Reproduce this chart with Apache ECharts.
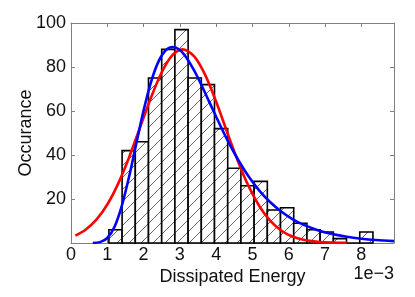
<!DOCTYPE html>
<html>
<head>
<meta charset="utf-8">
<script src="https://cdn.jsdelivr.net/npm/echarts@6/dist/echarts.min.js"></script>
<style>
  html, body { margin: 0; padding: 0; background: #fff; }
  #chart { width: 415px; height: 297px; }
</style>
</head>
<body>
<div id="chart"></div>
<script>
// Histogram (x in units of 1e-3)
const binEdges = [1.044, 1.408, 1.772, 2.135, 2.499, 2.863, 3.227, 3.591, 3.954, 4.318,
  4.682, 5.046, 5.410, 5.773, 6.137, 6.501, 6.865, 7.229, 7.592, 7.956, 8.320];
const counts = [6, 42, 46, 75, 88, 97, 75, 72, 52, 34, 26, 28, 15, 16, 9, 6, 5, 2, 0, 5];

// Red fitted curve
const redX = [0.12, 0.4, 0.7, 1.0, 1.3, 1.6, 1.9, 2.2, 2.5, 2.8, 3.08, 3.4, 3.7, 4.0, 4.3,
  4.6, 4.9, 5.2, 5.5, 5.8, 6.1, 6.4, 6.8, 7.2, 7.6];
const redY = [3.35, 6.05, 10.6, 17.5, 27.0, 38.9, 52.4, 65.9, 77.6, 85.5, 88.0, 84.7, 76.3, 64.2, 50.5,
  37.2, 25.6, 16.5, 9.9, 5.58, 2.93, 1.44, 0.51, 0.16, 0.04];

// Blue fitted curve
const blueX = [0.6, 0.8, 1.0, 1.2, 1.4, 1.6, 1.8, 2.0, 2.2, 2.4, 2.6, 2.8, 3.0, 3.2, 3.4, 3.6,
  3.8, 4.0, 4.3, 4.6, 4.9, 5.2, 5.5, 5.8, 6.1, 6.4, 6.8, 7.2, 7.6, 8.0, 8.4, 8.9];
const blueY = [0.02, 0.39, 2.27, 7.42, 16.9, 30.1, 45.3, 60.2, 72.9, 82.1, 87.4, 89.1, 87.7, 83.8, 78.2, 71.6,
  64.5, 57.4, 47.1, 37.95, 30.1, 23.6, 18.4, 14.2, 10.9, 8.36, 5.83, 4.06, 2.82, 1.96, 1.36, 0.87];

const xTicks = { min: 0, max: 8.9, interval: 1 };
const yTicks = { min: 0, max: 100, interval: 20 };
const xName = 'Dissipated Energy';
const yName = 'Occurance';
const offsetText = '1e\u22123';

// hatch pattern
const hc = document.createElement('canvas');
hc.width = 12; hc.height = 12;
const hx = hc.getContext('2d');
hx.fillStyle = '#ffffff';
hx.fillRect(0, 0, 12, 12);
hx.strokeStyle = '#555555';
hx.lineWidth = 0.9;
hx.beginPath();
hx.moveTo(-1, 13); hx.lineTo(13, -1);
hx.moveTo(-7, 7); hx.lineTo(7, -7);
hx.moveTo(5, 19); hx.lineTo(19, 5);
hx.stroke();
const hatch = { image: hc, repeat: 'repeat' };

const histData = counts.map((c, i) => [binEdges[i], binEdges[i + 1], c]);
const redData = redX.map((x, i) => [x, redY[i]]);
const blueData = blueX.map((x, i) => [x, blueY[i]]);

const FONT = 'Liberation Sans';
const gray = '#808080';

const chart = echarts.init(document.getElementById('chart'), null, { renderer: 'canvas' });
const axisCommon = {
  type: 'value',
  splitLine: { show: false },
  axisLine: { show: true, onZero: false, lineStyle: { color: gray, width: 1 } },
  axisTick: { show: true, inside: true, length: 4, lineStyle: { color: gray, width: 1 } }
};
chart.setOption({
  animation: false,
  grid: { left: 71, top: 23, width: 323, height: 220, containLabel: false },
  xAxis: [
    Object.assign({}, axisCommon, {
      min: xTicks.min, max: xTicks.max, interval: xTicks.interval, position: 'bottom',
      name: xName, nameLocation: 'middle', nameGap: 25, nameMoveOverlap: false,
      nameTextStyle: { fontFamily: FONT, fontSize: 18, color: '#111' },
      axisLabel: { show: true, margin: 3, fontFamily: FONT, fontSize: 18, color: '#111', showMaxLabel: false }
    }),
    Object.assign({}, axisCommon, {
      min: xTicks.min, max: xTicks.max, interval: xTicks.interval, position: 'top',
      axisLabel: { show: false }
    })
  ],
  yAxis: [
    Object.assign({}, axisCommon, {
      min: yTicks.min, max: yTicks.max, interval: yTicks.interval, position: 'left',
      name: yName, nameLocation: 'middle', nameGap: 36, nameRotate: 90, nameMoveOverlap: false,
      nameTextStyle: { fontFamily: FONT, fontSize: 18, color: '#111' },
      axisLabel: { show: true, margin: 5, fontFamily: FONT, fontSize: 18, color: '#111', showMinLabel: false }
    }),
    Object.assign({}, axisCommon, {
      min: yTicks.min, max: yTicks.max, interval: yTicks.interval, position: 'right',
      axisLabel: { show: false }
    })
  ],
  graphic: [{
    type: 'text', right: 21, top: 265,
    style: { text: offsetText, font: '18px "' + FONT + '"', fill: '#111' }
  }],
  series: [
    {
      type: 'custom',
      xAxisIndex: 0, yAxisIndex: 0,
      data: histData,
      encode: { x: [0, 1], y: 2 },
      renderItem: function (params, api) {
        const p0 = api.coord([api.value(0), api.value(2)]);
        const p1 = api.coord([api.value(1), 0]);
        return {
          type: 'rect',
          shape: { x: p0[0], y: p0[1], width: p1[0] - p0[0], height: p1[1] - p0[1] },
          style: { fill: hatch, stroke: '#000', lineWidth: 1.6 }
        };
      },
      z: 2
    },
    {
      type: 'line', data: redData, showSymbol: false, smooth: 0.3,
      lineStyle: { color: '#ff0000', width: 2.6 }, z: 3
    },
    {
      type: 'line', data: blueData, showSymbol: false, smooth: 0.3,
      lineStyle: { color: '#0000ff', width: 2.6 }, z: 4
    }
  ]
});
</script>
</body>
</html>
